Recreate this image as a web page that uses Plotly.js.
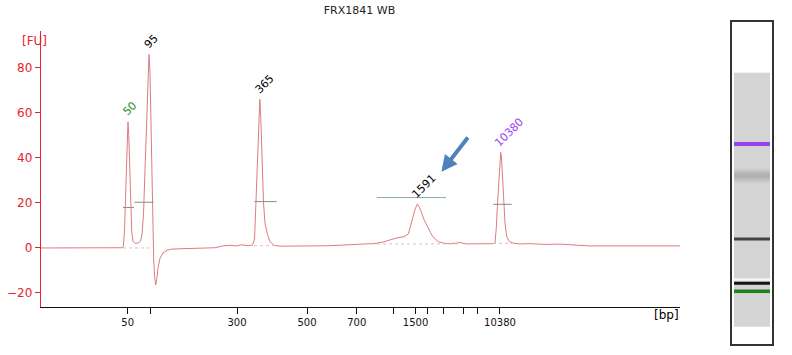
<!DOCTYPE html>
<html>
<head>
<meta charset="utf-8">
<script src="https://cdn.plot.ly/plotly-3.0.1.min.js"></script>
<style>html,body{margin:0;padding:0;background:#fff;}#chart{width:792px;height:355px;}</style>
</head>
<body>
<div id="chart"></div>
<script>
// ---- Electropherogram trace: migration time (s) vs fluorescence [FU] ----
const traceTime = [40.00,42.41,44.91,47.41,49.29,50.16,50.33,50.48,50.60,50.73,50.83,50.91,51.01,51.13,51.25,51.38,51.54,51.79,52.16,52.48,52.66,52.85,53.04,53.23,53.39,53.54,53.66,53.79,53.91,54.01,54.13,54.25,54.38,54.50,54.66,54.91,55.29,55.79,56.41,58.04,59.91,61.79,62.79,63.66,64.41,65.16,65.91,66.48,66.73,66.91,67.10,67.29,67.39,67.51,67.70,67.85,68.04,68.35,68.66,69.16,69.91,71.79,73.66,76.16,78.66,80.54,81.79,82.66,83.41,83.91,84.66,85.41,85.95,86.38,86.73,87.08,87.35,87.63,87.91,88.25,88.54,88.88,89.29,89.70,90.29,90.91,91.79,92.41,93.16,94.29,95.54,96.54,96.79,96.95,97.08,97.19,97.29,97.41,97.50,97.60,97.70,97.83,98.04,98.25,98.58,99.08,99.91,101.16,103.04,104.91,106.16,107.79,108.66,111.16,114.91,119.91];
const traceFU   = [0,0,0.1,0,0,0.1,0.5,8,22,40,52,56,50,32,15,7,3,2,2.2,3,6,15,35,58,76,86,78,52,22,3,-6,-13,-16.4,-14,-9,-4.6,-2.2,-1,-0.5,-0.3,-0.1,0.1,0.9,1.2,0.9,1.4,1.0,1.3,4,20,42,62,66,58,36,20,11,6,2.8,1.2,0.8,0.7,0.9,1.0,1.3,1.6,2.0,2.5,3.3,3.9,4.6,5.0,6.2,11.7,16.5,19.6,18,15.4,12.6,10.2,7.8,5.8,4,2.8,2.2,1.9,2.1,2.4,1.8,1.9,1.7,1.9,2.3,9,18.4,26,33.2,41,42.5,40,33.2,19.9,11,5,2.8,2.1,1.8,1.9,1.6,1.7,1.4,1.2,0.9,0.9,0.9,0.9];

// ---- Peak table ----
const peakLabels  = ['50','95','365','1591','10380'];
const peakTime    = [50.91, 53.54, 67.39, 87.08, 97.50];
const peakFU      = [56, 86, 66, 19.6, 42.5];
const peakWidthFU = [18, 20.3, 20.6, 22.4, 19.4];      // level of the width bar
const peakWidthStart = [50.29, 51.70, 66.70, 82.00, 96.58];
const peakWidthEnd   = [51.66, 54.08, 69.50, 90.66, 98.88];
const baseLevel = [0, 1.0, 1.8, 2.0];
const baseStart = [50.29, 66.66, 80.54, 96.54];
const baseEnd   = [54.04, 69.41, 92.41, 99.16];

// ---- Size axis (ticks at migration times, labelled in bp) ----
const tickTime = [50.875, 53.70, 64.54, 73.29, 79.50, 84.16, 86.86, 88.29, 90.33, 92.79, 94.63, 97.41];
const tickBp   = ['50', '', '300', '500', '700', '', '1500', '', '', '', '', '10380'];

// ---- Gel-like lane (band positions along lane) ----
const gelBandLabels = ['10380', '1591', '365', '95', '50'];
const gelBandPos    = [144, 175.7, 239, 283.3, 291.3];
const gelLaneStart = 72.7, gelLaneEnd = 326.7, gelTop = 21.7, gelBottom = 344.3;

// ---- Styles ----
const FONT = 'DejaVu Sans, Verdana, sans-serif';
const RED = '#e3262d';
const labelColor = {'50': '#2e8b2e', '10380': '#9b3ef0'};
const widthBarColor = {'1591': '#86aeb0'};
const bandStyle = {
  '10380': {color: '#9b3ef0', h: 4},
  '365':   {color: '#444444', h: 3},
  '95':    {color: '#151515', h: 3},
  '50':    {color: '#1f7f1f', h: 3.5}
};

const traces = [];
traces.push({
  x: traceTime, y: traceFU, type: 'scatter', mode: 'lines',
  line: {color: '#dc7c80', width: 1}, hoverinfo: 'skip'
});

// peak baselines (dotted)
{
  const bx = [], by = [];
  for (let i = 0; i < baseLevel.length; i++) {
    bx.push(baseStart[i], baseEnd[i], null);
    by.push(baseLevel[i], baseLevel[i], null);
  }
  traces.push({x: bx, y: by, type: 'scatter', mode: 'lines',
    line: {color: '#e6bcbc', width: 1, dash: 'dot'}, hoverinfo: 'skip'});
}
// width bars
for (let i = 0; i < peakLabels.length; i++) {
  traces.push({
    x: [peakWidthStart[i], peakWidthEnd[i]], y: [peakWidthFU[i], peakWidthFU[i]],
    type: 'scatter', mode: 'lines',
    line: {color: widthBarColor[peakLabels[i]] || '#8a8a8a', width: 1}, hoverinfo: 'skip'
  });
}
// dummy trace for gel axes
traces.push({x: [0, 1], y: [gelTop, gelBottom], xaxis: 'x2', yaxis: 'y2',
  type: 'scatter', mode: 'markers', marker: {opacity: 0}, hoverinfo: 'skip'});

const annotations = [];
for (let i = 0; i < peakLabels.length; i++) {
  const n = peakLabels[i].length;
  annotations.push({
    x: peakTime[i], y: peakFU[i], xref: 'x', yref: 'y',
    text: peakLabels[i], showarrow: false, textangle: -45,
    xanchor: 'center', yanchor: 'middle',
    xshift: 2.1 * n - 2, yshift: 9 + 2.1 * n,
    font: {family: FONT, size: 11, color: labelColor[peakLabels[i]] || '#000'}
  });
}
annotations.push({
  x: 90.09, y: 33.9, xref: 'x', yref: 'y', ax: 27.6, ay: -35.7,
  showarrow: true, arrowhead: 2, arrowsize: 0.8, arrowwidth: 4,
  arrowcolor: '#4f81bd', text: '', standoff: 0
});
annotations.push({x: 19.5 / 792, y: 1 - 32.3 / 355, xref: 'paper', yref: 'paper',
  text: '[FU]', showarrow: false, font: {family: FONT, size: 12, color: RED}});
annotations.push({x: 680.7 / 792, y: 1 - 323.7 / 355, xref: 'paper', yref: 'paper',
  text: '[bp]', showarrow: false, font: {family: FONT, size: 12, color: '#000'}});

const shapes = [];
shapes.push({type: 'rect', xref: 'x2', yref: 'y2', x0: 0.057, x1: 0.943,
  y0: gelLaneStart, y1: gelLaneEnd, fillcolor: '#d4d4d4', line: {width: 0}, layer: 'below'});
// lighter strip above the lower ladder region
shapes.push({type: 'rect', xref: 'x2', yref: 'y2', x0: 0.057, x1: 0.943,
  y0: gelBandPos[3] - 5, y1: gelBandPos[3] - 2.5, fillcolor: '#f4f4f4', line: {width: 0}, layer: 'below'});
for (let i = 0; i < gelBandLabels.length; i++) {
  const lab = gelBandLabels[i];
  const st = bandStyle[lab];
  if (st) {
    shapes.push({type: 'rect', xref: 'x2', yref: 'y2', x0: 0.057, x1: 0.943,
      y0: gelBandPos[i] - st.h / 2, y1: gelBandPos[i] + st.h / 2,
      fillcolor: st.color, line: {width: 0}});
  } else {
    // diffuse smear band
    [7, 5, 3.5, 2].forEach(function (hh) {
      shapes.push({type: 'rect', xref: 'x2', yref: 'y2', x0: 0.057, x1: 0.943,
        y0: gelBandPos[i] - hh, y1: gelBandPos[i] + hh,
        fillcolor: '#7a7a7a', opacity: 0.1, line: {width: 0}});
    });
  }
}

const layout = {
  width: 792, height: 355,
  margin: {l: 0, r: 0, t: 0, b: 0},
  paper_bgcolor: '#fff', plot_bgcolor: '#fff',
  showlegend: false,
  title: {text: 'FRX1841 WB', x: 359.5 / 792, xanchor: 'center', xref: 'paper',
    y: 1 - 10 / 355, yanchor: 'middle', yref: 'container',
    font: {family: FONT, size: 11, color: '#222'}},
  xaxis: {
    domain: [40.7 / 792, 680 / 792], range: [40, 119.91],
    showline: true, linecolor: '#111', linewidth: 1,
    ticks: 'outside', ticklen: 6, tickcolor: '#111', tickwidth: 1,
    tickmode: 'array', tickvals: tickTime, ticktext: tickBp,
    tickfont: {family: FONT, size: 10, color: '#111'},
    showgrid: false, zeroline: false, fixedrange: true
  },
  yaxis: {
    domain: [1 - 306.7 / 355, 1 - 31 / 355], range: [-26.1, 96.4],
    showline: true, linecolor: RED, linewidth: 1,
    ticks: 'outside', ticklen: 5, tickcolor: RED, tickwidth: 1,
    tickmode: 'array', tickvals: [-20, 0, 20, 40, 60, 80],
    tickfont: {family: FONT, size: 12, color: RED},
    showgrid: false, zeroline: false, fixedrange: true
  },
  xaxis2: {
    domain: [731.7 / 792, 772.3 / 792], range: [0, 1], anchor: 'y2',
    showline: true, mirror: true, linecolor: '#333', linewidth: 1.5,
    showticklabels: false, ticks: '', showgrid: false, zeroline: false
  },
  yaxis2: {
    domain: [1 - 344.3 / 355, 1 - 21.7 / 355], range: [gelBottom, gelTop], anchor: 'x2',
    showline: true, mirror: true, linecolor: '#333', linewidth: 1.5,
    showticklabels: false, ticks: '', showgrid: false, zeroline: false
  },
  annotations: annotations,
  shapes: shapes
};

Plotly.newPlot('chart', traces, layout, {displayModeBar: false, staticPlot: true});
</script>
</body>
</html>
